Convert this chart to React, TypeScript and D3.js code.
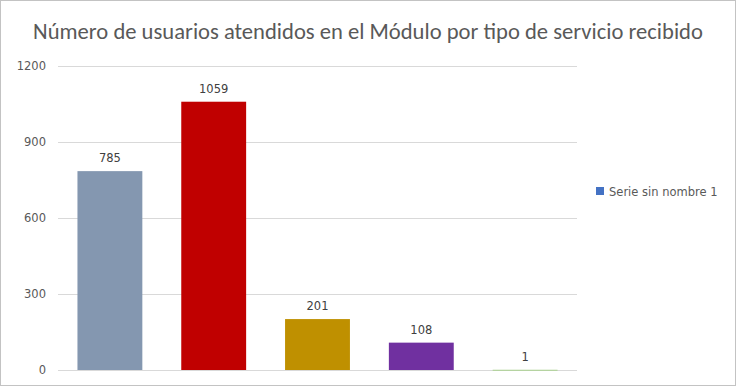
import React, { useRef, useEffect } from "react"
import * as d3 from "d3"

const categories = ["A", "B", "C", "D", "E"]
const values = [785, 1059, 201, 108, 1]
const colors = ["#8497B0", "#C00000", "#BF9000", "#7030A0", "#A9D18E"]
const yTicks = [0, 300, 600, 900, 1200]
const title = "Número de usuarios atendidos en el Módulo por tipo de servicio recibido"
const seriesName = "Serie sin nombre 1"

const W = 736
const H = 386

const App: React.FC = () => {
  const svgRef = useRef<SVGSVGElement>(null)

  useEffect(() => {
    if (!svgRef.current) return
    const svg = d3.select(svgRef.current)
    svg.selectAll("*").remove()

    const titleFont = "Carlito, 'Liberation Sans', 'Open Sans', sans-serif"
    const font = "'DejaVu Sans', Verdana, sans-serif"
    const plot = { left: 58, right: 577, top: 66, bottom: 370 }

    svg.append("rect")
      .attr("x", 0.5).attr("y", 0.5)
      .attr("width", W - 1).attr("height", H - 1)
      .attr("fill", "white").attr("stroke", "#c3c3c3")

    const x = d3.scaleBand().domain(categories).range([plot.left, plot.right]).paddingInner(0.375).paddingOuter(0.1875)
    const y = d3.scaleLinear().domain([0, 1200]).range([plot.bottom, plot.top])

    svg.append("text")
      .attr("x", 368).attr("y", 39)
      .attr("text-anchor", "middle")
      .attr("font-family", titleFont)
      .attr("font-size", 22.6)
      .attr("fill", "#595959")
      .text(title)

    svg.selectAll(".grid")
      .data(yTicks)
      .enter()
      .append("line")
      .attr("x1", plot.left).attr("x2", plot.right)
      .attr("y1", (d) => y(d) + 0.5).attr("y2", (d) => y(d) + 0.5)
      .attr("stroke", "#d9d9d9")

    svg.selectAll(".ytick")
      .data(yTicks)
      .enter()
      .append("text")
      .attr("x", 46).attr("y", (d) => y(d) + 4)
      .attr("text-anchor", "end")
      .attr("font-family", font)
      .attr("font-size", 11.5)
      .attr("fill", "#595959")
      .text((d) => d)

    svg.selectAll(".bar")
      .data(values)
      .enter()
      .append("rect")
      .attr("x", (_, i) => x(categories[i])!)
      .attr("y", (d) => y(d))
      .attr("width", x.bandwidth())
      .attr("height", (d) => Math.max(1, y(0) - y(d)))
      .attr("fill", (_, i) => colors[i])

    svg.selectAll(".label")
      .data(values)
      .enter()
      .append("text")
      .attr("x", (_, i) => x(categories[i])! + x.bandwidth() / 2)
      .attr("y", (d) => y(d) - 9)
      .attr("text-anchor", "middle")
      .attr("font-family", font)
      .attr("font-size", 11.5)
      .attr("fill", "#404040")
      .text((d) => d)

    svg.append("rect")
      .attr("x", 596).attr("y", 187)
      .attr("width", 8).attr("height", 8)
      .attr("fill", "#4472C4")
    svg.append("text")
      .attr("x", 609).attr("y", 196)
      .attr("font-family", font)
      .attr("font-size", 11.5)
      .attr("fill", "#595959")
      .text(seriesName)
  }, [])

  return (
    <svg ref={svgRef} width={W} height={H} style={{ position: "absolute", left: 0, top: 0 }} />
  )
}

export default App
